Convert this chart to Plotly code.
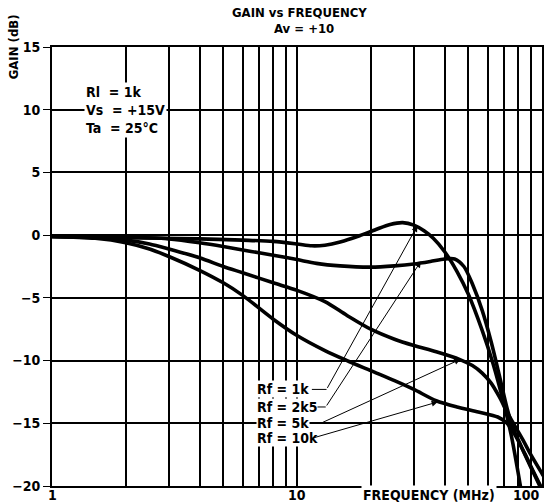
import math
import plotly.graph_objects as go

# ---- measured response data (frequency in MHz, gain in dB) ----
freq_rf1k = [1, 2, 4, 6, 8, 10, 11.5, 13, 15, 18, 21, 24, 27, 30, 33, 36, 40, 45, 50, 57, 63, 70, 75, 80, 84]
gain_rf1k = [-0.1, -0.2, -0.3, -0.4, -0.5, -0.7, -0.85, -0.8, -0.55, -0.05, 0.45, 0.85, 1.0, 0.8, 0.35, -0.25,
             -1.3, -2.9, -4.7, -7.6, -10.2, -13.5, -16.0, -19.0, -21.5]

freq_rf2k5 = [1, 2, 3, 4, 5, 6.5, 8, 10, 12, 15, 20, 25, 30, 35, 40, 44, 48, 52, 57, 62, 67, 72, 76, 82, 90, 98, 104]
gain_rf2k5 = [-0.1, -0.15, -0.3, -0.6, -0.9, -1.3, -1.6, -1.95, -2.25, -2.45, -2.55, -2.45, -2.3, -2.1, -1.9, -1.9,
              -2.5, -3.9, -6.0, -8.5, -11.2, -13.8, -15.3, -16.8, -18.5, -20.0, -21.0]

freq_rf5k = [1, 1.5, 2, 2.5, 3, 4, 5, 6, 8, 10, 13, 16, 20, 25, 30, 37, 46, 52, 57, 62, 67, 72, 78, 84, 90, 100, 106]
gain_rf5k = [-0.1, -0.2, -0.4, -0.7, -1.1, -1.8, -2.5, -3.0, -3.8, -4.4, -5.3, -6.4, -7.5, -8.3, -8.8, -9.3, -9.9,
             -10.4, -11.0, -11.8, -12.9, -14.1, -15.3, -16.4, -17.5, -19.0, -19.8]

freq_rf10k = [1, 1.5, 2, 2.5, 3, 4, 5, 6, 8, 10, 13, 16, 20, 25, 30, 37, 45, 55, 66, 72, 78, 85, 92, 100, 106]
gain_rf10k = [-0.1, -0.25, -0.6, -1.1, -1.7, -2.8, -3.8, -4.8, -6.7, -8.0, -9.2, -10.0, -10.8, -11.6, -12.3, -13.2,
              -13.7, -14.1, -14.5, -15.0, -16.0, -17.4, -18.8, -20.2, -21.0]

curve_labels = ["Rf = 1k", "Rf = 2k5", "Rf = 5k", "Rf = 10k"]

# ---- axes ----
x_grid_vals = [1, 2, 3, 4, 5, 6, 7, 8, 9, 10, 20, 30, 40, 50, 60, 70, 80, 90, 100]
x_tick_labels = {1: "1", 10: "10", 100: "100"}
y_tick_vals = [15, 10, 5, 0, -5, -10, -15, -20]

title_main = "GAIN vs FREQUENCY"
title_sub = "Av = +10"
y_title = "GAIN (dB)"
x_title = "FREQUENCY (MHz)"
conditions = ["Rl\u00a0\u00a0= 1k", "Vs\u00a0\u00a0= +15V", "Ta\u00a0\u00a0= 25°C"]

FONT = "Liberation Sans Narrow, DejaVu Sans Condensed, Arial Narrow, Liberation Sans, sans-serif"
INK = "black"

fig = go.Figure()

series = [(freq_rf1k, gain_rf1k), (freq_rf2k5, gain_rf2k5), (freq_rf5k, gain_rf5k), (freq_rf10k, gain_rf10k)]
for (f, g), name in zip(series, curve_labels):
    fig.add_trace(go.Scatter(
        x=f, y=g, mode="lines", name=name,
        line=dict(color=INK, width=3.6, shape="spline", smoothing=0.8),
        showlegend=False, hoverinfo="skip",
    ))

# ---- curve labels with leader lines: (label row dB, leader start f, bend f, tip f, tip dB) ----
label_left_f = 6.8
leaders = [
    (-12.3, 11.5, 13.2, 31.0, 0.75),
    (-13.7, 11.7, 13.1, 32.0, -2.1),
    (-15.0, 11.5, 12.5, 46.4, -9.9),
    (-16.2, 11.5, 11.5, 37.5, -13.3),
]

annotations = []
for name, (row, f0, f1, ft, gt) in zip(curve_labels, leaders):
    annotations.append(dict(
        x=math.log10(label_left_f), y=row, xref="x", yref="y", text=name,
        showarrow=False, xanchor="left", yanchor="middle", bgcolor="white", borderpad=0,
        font=dict(family=FONT, size=14, color=INK, weight="bold"),
    ))
    if f1 > f0:
        fig.add_trace(go.Scatter(x=[f0, f1], y=[row, row], mode="lines",
                                 line=dict(color=INK, width=1), showlegend=False, hoverinfo="skip"))
    annotations.append(dict(
        x=math.log10(ft), y=gt, xref="x", yref="y", ax=math.log10(f1), ay=row,
        axref="x", ayref="y", text="", showarrow=True,
        arrowhead=2, arrowsize=1.2, arrowwidth=1, arrowcolor=INK, standoff=0,
    ))

# operating conditions block
annotations.append(dict(
    x=0.065, y=10, xref="paper", yref="y", text="<br>".join(conditions),
    showarrow=False, xanchor="left", yanchor="middle", align="left", bgcolor="white",
    font=dict(family=FONT, size=14, color=INK, weight="bold"),
))

# titles
annotations += [
    dict(x=0.506, y=1.079, xref="paper", yref="paper", text=title_main, showarrow=False,
         xanchor="center", yanchor="middle", font=dict(family=FONT, size=13, color=INK, weight="bold")),
    dict(x=0.514, y=1.043, xref="paper", yref="paper", text=title_sub, showarrow=False,
         xanchor="center", yanchor="middle", font=dict(family=FONT, size=13, color=INK, weight="bold")),
    dict(x=-0.079, y=15, xref="paper", yref="y", text=y_title, showarrow=False, textangle=-90,
         xanchor="center", yanchor="middle", font=dict(family=FONT, size=13, color=INK, weight="bold")),
    dict(x=0.77, y=-0.02, xref="paper", yref="paper", text=x_title, showarrow=False,
         xanchor="center", yanchor="middle", bgcolor="white",
         font=dict(family=FONT, size=14, color=INK, weight="bold")),
]

# frequency tick labels (the last one sits flush against the right edge)
for val, txt in x_tick_labels.items():
    annotations.append(dict(
        x=math.log10(val), y=-0.02, xref="x", yref="paper", text=txt, showarrow=False,
        xanchor="right" if val == 100 else "center", xshift=0, yanchor="middle",
        font=dict(family=FONT, size=14, color=INK, weight="bold"),
    ))

fig.update_layout(
    width=545, height=503,
    margin=dict(l=52, r=1, t=47, b=17),
    paper_bgcolor="white", plot_bgcolor="white",
    annotations=annotations,
    xaxis=dict(
        type="log", range=[0, 2], tickvals=x_grid_vals, showticklabels=False, ticks="",
        showgrid=True, gridcolor=INK, gridwidth=1.7,
        showline=True, linecolor=INK, linewidth=1.8, mirror=True, zeroline=False,
    ),
    yaxis=dict(
        range=[-20, 15], tickvals=y_tick_vals, ticks="outside", ticklen=7, tickwidth=1.2, tickcolor=INK,
        tickfont=dict(family=FONT, size=14, color=INK, weight="bold"),
        showgrid=True, gridcolor=INK, gridwidth=1.7,
        showline=True, linecolor=INK, linewidth=1.8, mirror=True, zeroline=False,
    ),
)

fig.write_html("out.html")
